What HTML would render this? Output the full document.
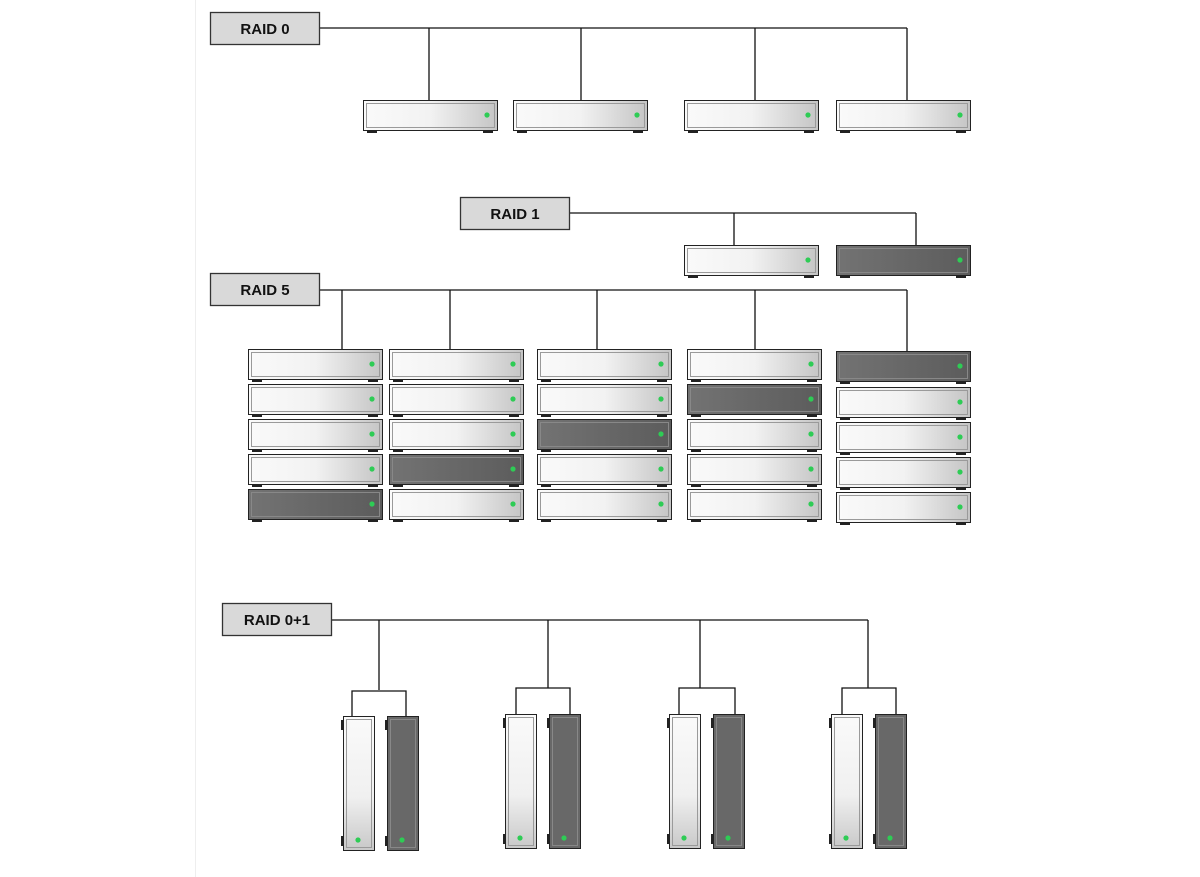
<!DOCTYPE html>
<html><head><style>html,body{margin:0;background:#fff}svg{display:block}</style></head><body>
<svg width="1200" height="877" xmlns="http://www.w3.org/2000/svg" font-family="Liberation Sans, sans-serif">
<defs>
<linearGradient id="lg" x1="0" x2="1" y1="0" y2="0"><stop offset="0" stop-color="#fafafa"/><stop offset="0.5" stop-color="#f2f2f2"/><stop offset="1" stop-color="#c4c4c4"/></linearGradient>
<linearGradient id="dg" x1="0" x2="1"><stop offset="0" stop-color="#737373"/><stop offset="1" stop-color="#5c5c5c"/></linearGradient>
<linearGradient id="vl" x1="0" x2="0" y1="0" y2="1"><stop offset="0" stop-color="#fafafa"/><stop offset="0.6" stop-color="#f0f0f0"/><stop offset="1" stop-color="#c8c8c8"/></linearGradient>
<g id="hl"><rect x="0.5" y="0.5" width="134" height="30" fill="url(#lg)" stroke="#222"/><rect x="3.5" y="3.5" width="128" height="24" fill="none" stroke="#9a9a9a"/><circle cx="124" cy="15" r="2.6" fill="#2ecc55"/><rect x="4" y="31" width="10" height="2" fill="#222"/><rect x="120" y="31" width="10" height="2" fill="#222"/></g>
<g id="hd"><rect x="0.5" y="0.5" width="134" height="30" fill="url(#dg)" stroke="#222"/><rect x="3.5" y="3.5" width="128" height="24" fill="none" stroke="#888"/><circle cx="124" cy="15" r="2.6" fill="#2ecc55"/><rect x="4" y="31" width="10" height="2" fill="#222"/><rect x="120" y="31" width="10" height="2" fill="#222"/></g>
<g id="vlt"><rect x="0.5" y="0.5" width="31" height="134" fill="url(#vl)" stroke="#222"/><rect x="3.5" y="3.5" width="25" height="128" fill="none" stroke="#9a9a9a"/><circle cx="15" cy="124" r="2.6" fill="#2ecc55"/><rect x="-2" y="4" width="2" height="10" fill="#222"/><rect x="-2" y="120" width="2" height="10" fill="#222"/></g>
<g id="vdk"><rect x="0.5" y="0.5" width="31" height="134" fill="#686868" stroke="#222"/><rect x="3.5" y="3.5" width="25" height="128" fill="none" stroke="#888"/><circle cx="15" cy="124" r="2.6" fill="#2ecc55"/><rect x="-2" y="4" width="2" height="10" fill="#222"/><rect x="-2" y="120" width="2" height="10" fill="#222"/></g>
</defs>
<line x1="195.5" y1="0" x2="195.5" y2="877" stroke="#eee"/>
<g stroke="#111" stroke-width="1.3" fill="none">
<path d="M319 28H907M429 28V100M581 28V100M755 28V100M907 28V100"/>
<path d="M569 213H916M734 213V245M916 213V245"/>
<path d="M319 290H907M342 290V349M450 290V349M597 290V349M755 290V349M907 290V351"/>
<path d="M331 620H868M379 620V690M548 620V688M700 620V688M868 620V688"/>
<path d="M352 716V691H406V716M516 714V688H570V714M679 714V688H735V714M842 714V688H896V714"/>
</g>
<g fill="#d9d9d9" stroke="#333" stroke-width="1.3">
<rect x="210.5" y="12.5" width="109" height="32"/>
<rect x="460.5" y="197.5" width="109" height="32"/>
<rect x="210.5" y="273.5" width="109" height="32"/>
<rect x="222.5" y="603.5" width="109" height="32"/>
</g>
<g font-weight="bold" font-size="15" fill="#111" text-anchor="middle">
<text x="265" y="34">RAID 0</text>
<text x="515" y="219">RAID 1</text>
<text x="265" y="295">RAID 5</text>
<text x="277" y="625">RAID 0+1</text>
</g>
<use href="#hl" x="363" y="100"/><use href="#hl" x="513" y="100"/><use href="#hl" x="684" y="100"/><use href="#hl" x="836" y="100"/>
<use href="#hl" x="684" y="245"/><use href="#hd" x="836" y="245"/>
<use href="#hl" x="248" y="349"/><use href="#hl" x="248" y="384"/><use href="#hl" x="248" y="419"/><use href="#hl" x="248" y="454"/><use href="#hd" x="248" y="489"/>
<use href="#hl" x="389" y="349"/><use href="#hl" x="389" y="384"/><use href="#hl" x="389" y="419"/><use href="#hd" x="389" y="454"/><use href="#hl" x="389" y="489"/>
<use href="#hl" x="537" y="349"/><use href="#hl" x="537" y="384"/><use href="#hd" x="537" y="419"/><use href="#hl" x="537" y="454"/><use href="#hl" x="537" y="489"/>
<use href="#hl" x="687" y="349"/><use href="#hd" x="687" y="384"/><use href="#hl" x="687" y="419"/><use href="#hl" x="687" y="454"/><use href="#hl" x="687" y="489"/>
<use href="#hd" x="836" y="351"/><use href="#hl" x="836" y="387"/><use href="#hl" x="836" y="422"/><use href="#hl" x="836" y="457"/><use href="#hl" x="836" y="492"/>
<use href="#vlt" x="343" y="716"/><use href="#vdk" x="387" y="716"/>
<use href="#vlt" x="505" y="714"/><use href="#vdk" x="549" y="714"/>
<use href="#vlt" x="669" y="714"/><use href="#vdk" x="713" y="714"/>
<use href="#vlt" x="831" y="714"/><use href="#vdk" x="875" y="714"/>
</svg>
</body></html>
